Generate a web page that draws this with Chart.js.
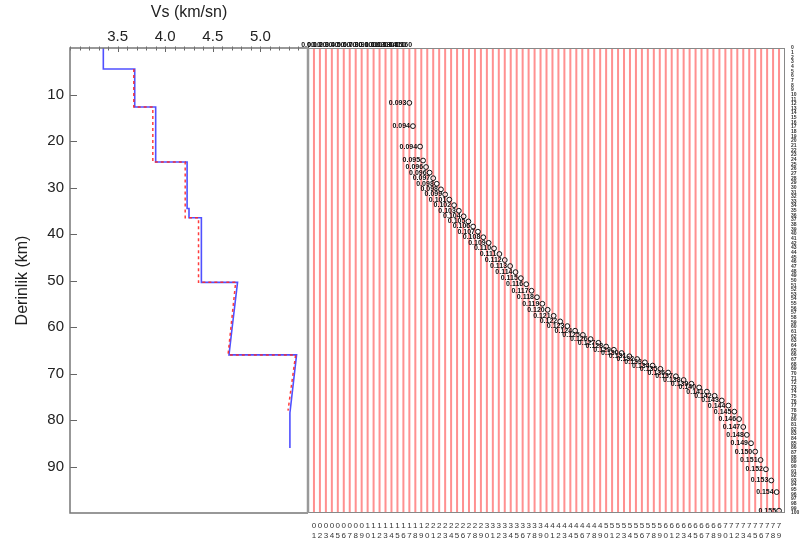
<!DOCTYPE html>
<html>
<head>
<meta charset="utf-8">
<script src="https://cdn.jsdelivr.net/npm/chart.js@4.4.0/dist/chart.umd.min.js"></script>
<style>
body { margin: 0; background: #fff; width: 806px; height: 550px; overflow: hidden; position: relative; }
#wrapL { position: absolute; left: 0; top: 0; width: 312px; height: 550px; }
#wrapR { position: absolute; left: 296px; top: 0; width: 510px; height: 550px; }
</style>
</head>
<body>
<div id="wrapL"><canvas id="vs" width="312" height="550"></canvas></div>
<div id="wrapR"><canvas id="kern" width="510" height="550"></canvas></div>
<script>
// axes
var depthRange = [0, 100];
var vsRange = [3.0, 5.5];
var vsTicks = [3.5, 4.0, 4.5, 5.0];
var depthTicks = [10, 20, 30, 40, 50, 60, 70, 80, 90];

// inverted Vs profile (blue)
var invDepth = [0, 4.5, 4.5, 12.7, 12.7, 24.5, 24.5, 34.5, 34.5, 36.5, 36.5, 50.4, 50.4, 60.7, 66, 66, 78.5, 86];
var invVs    = [3.35, 3.35, 3.68, 3.68, 3.90, 3.90, 4.23, 4.23, 4.25, 4.25, 4.38, 4.38, 4.76, 4.70, 4.67, 5.38, 5.31, 5.31];

// starting model (red dashed)
var modelDepth = [4.5, 12.7, 12.7, 24.5, 24.5, 36.5, 36.5, 50.4, 50.4, 66, 66, 78];
var modelVs    = [3.67, 3.67, 3.87, 3.87, 4.21, 4.21, 4.35, 4.35, 4.74, 4.66, 5.37, 5.29];

// resolution kernels
var kernelCount = 79;
var peakX = [17.0, 17.6, 18.8, 19.3, 19.8, 20.4, 21.0, 21.6, 22.3, 23.0, 23.7, 24.5, 25.3, 26.1, 26.9, 27.7,
  28.5, 29.4, 30.3, 31.2, 32.1, 33.0, 33.9, 34.8, 35.7, 36.6, 37.5, 38.4, 39.3, 40.2, 41.2, 42.3, 43.5,
  44.8, 46.1, 47.4, 48.7, 50.0, 51.3, 52.6, 53.9, 55.2, 56.5, 57.8, 59.1, 60.4, 61.7, 63.0, 64.3, 65.6,
  66.9, 68.2, 69.4, 70.5, 71.5, 72.3, 73.0, 73.6, 74.3, 75.0, 75.9, 76.8, 77.7, 78.6, 79.0];
var peakDepth = [11.8, 16.8, 21.2, 24.2, 25.6, 26.8, 28.0, 29.2, 30.4, 31.5, 32.6, 33.8, 35.0, 36.2, 37.3, 38.4,
  39.5, 40.7, 41.9, 43.1, 44.3, 45.6, 46.9, 48.2, 49.5, 50.8, 52.2, 53.6, 55.0, 56.3, 57.6, 58.8, 59.8,
  60.8, 61.7, 62.6, 63.4, 64.2, 64.9, 65.6, 66.3, 66.9, 67.6, 68.3, 69.0, 69.8, 70.6, 71.4, 72.2, 73.0,
  73.9, 74.8, 75.8, 76.9, 78.2, 79.8, 81.5, 83.2, 85.0, 86.8, 88.6, 90.6, 93.0, 95.5, 99.5];
var peakRes = [0.093, 0.094, 0.094, 0.095, 0.096, 0.096, 0.097, 0.098, 0.098, 0.099, 0.101, 0.102, 0.103, 0.104, 0.105, 0.106,
  0.107, 0.108, 0.109, 0.110, 0.111, 0.112, 0.113, 0.114, 0.115, 0.116, 0.117, 0.118, 0.119, 0.120, 0.121, 0.122, 0.123,
  0.124, 0.125, 0.126, 0.127, 0.128, 0.129, 0.130, 0.131, 0.132, 0.133, 0.134, 0.135, 0.136, 0.137, 0.138, 0.139, 0.140,
  0.141, 0.142, 0.143, 0.144, 0.145, 0.146, 0.147, 0.148, 0.149, 0.150, 0.151, 0.152, 0.153, 0.154, 0.155];

Chart.defaults.font.family = '"Liberation Sans", Arial, sans-serif';
Chart.defaults.color = '#222';
Chart.defaults.animation = false;

function pts(xs, ys) {
  return xs.map(function (v, i) { return { x: v, y: ys[i] }; });
}
function isTick(list, v) {
  return list.some(function (t) { return Math.abs(t - v) < 1e-6; });
}

var innerTicks = {
  id: 'innerTicks',
  afterDraw: function (chart) {
    var ctx = chart.ctx, a = chart.chartArea;
    var xs = chart.scales.x, ys = chart.scales.y;
    ctx.save();
    ctx.strokeStyle = '#666';
    ctx.lineWidth = 1;
    ctx.beginPath();
    xs.ticks.forEach(function (t) {
      var px = Math.round(xs.getPixelForValue(t.value)) + 0.5;
      ctx.moveTo(px, a.top - 1.5);
      ctx.lineTo(px, a.top + (isTick(vsTicks, t.value) ? 4 : 2.5));
    });
    ys.ticks.forEach(function (t) {
      if (!isTick(depthTicks, t.value)) return;
      var py = Math.round(ys.getPixelForValue(t.value)) + 0.5;
      ctx.moveTo(a.left, py);
      ctx.lineTo(a.left + 7, py);
    });
    ctx.stroke();
    // frame
    ctx.strokeStyle = '#777';
    ctx.lineWidth = 1.5;
    ctx.beginPath();
    ctx.moveTo(a.right, a.top); ctx.lineTo(a.left, a.top);
    ctx.lineTo(a.left, a.bottom); ctx.lineTo(a.right, a.bottom);
    ctx.stroke();
    ctx.restore();
  }
};

new Chart(document.getElementById('vs'), {
  type: 'scatter',
  data: {
    datasets: [
      {
        data: pts(modelVs, modelDepth), showLine: true, pointRadius: 0,
        borderColor: 'rgba(255,40,40,0.9)', borderWidth: 1.5, borderDash: [3, 3]
      },
      {
        data: pts(invVs, invDepth), showLine: true, pointRadius: 0,
        borderColor: 'rgb(80,80,255)', borderWidth: 1.6
      }
    ]
  },
  options: {
    responsive: false,
    layout: { padding: { left: 0, right: 4, top: 0, bottom: 37 } },
    plugins: { legend: { display: false }, tooltip: { enabled: false } },
    scales: {
      x: {
        type: 'linear', position: 'top', min: vsRange[0], max: vsRange[1],
        grid: { display: false, drawTicks: false }, border: { display: false },
        ticks: {
          stepSize: 0.1, autoSkip: false, maxRotation: 0, padding: 2,
          font: { size: 15 },
          callback: function (v) { return isTick(vsTicks, v) ? v.toFixed(1) : ''; }
        },
        title: { display: true, text: 'Vs (km/sn)', font: { size: 16 }, padding: { top: 3, bottom: 0 } },
        afterFit: function (s) { s.height = 48; }
      },
      y: {
        type: 'linear', reverse: true, min: depthRange[0], max: depthRange[1],
        grid: { display: false, drawTicks: false }, border: { display: false },
        ticks: {
          stepSize: 10, autoSkip: false, padding: 6, font: { size: 15 },
          callback: function (v) { return isTick(depthTicks, v) ? String(v) : ''; }
        },
        title: { display: true, text: 'Derinlik (km)', font: { size: 16 }, padding: { top: 13, bottom: 0 } },
        afterFit: function (s) { s.width = 70; }
      }
    }
  },
  plugins: [innerTicks]
});

// kernel lines: one vertical trace per kernel index
var kernelLines = [];
for (var k = 1; k <= kernelCount; k++) {
  kernelLines.push({ x: k, y: depthRange[0] }, { x: k, y: depthRange[1] }, { x: k, y: null });
}

var kernelDecor = {
  id: 'kernelDecor',
  afterDraw: function (chart) {
    var ctx = chart.ctx, a = chart.chartArea;
    var meta = chart.getDatasetMeta(0);
    ctx.save();
    ctx.font = 'bold 7px "Liberation Sans", Arial, sans-serif';
    ctx.fillStyle = '#111';
    ctx.textAlign = 'right';
    ctx.textBaseline = 'middle';
    meta.data.forEach(function (p, i) {
      ctx.fillText(peakRes[i].toFixed(3), p.x - 3, p.y);
    });
    ctx.strokeStyle = '#888';
    ctx.lineWidth = 1;
    ctx.strokeRect(a.left + 0.5, a.top + 0.5, a.right - a.left - 1, a.bottom - a.top - 1);
    ctx.strokeStyle = '#999';
    ctx.lineWidth = 2.5;
    ctx.beginPath();
    ctx.moveTo(a.left, a.top); ctx.lineTo(a.left, a.bottom);
    ctx.stroke();
    ctx.restore();
  }
};

new Chart(document.getElementById('kern'), {
  type: 'scatter',
  data: {
    datasets: [
      {
        data: pts(peakX, peakDepth), showLine: false,
        pointRadius: 2.4, pointBorderWidth: 1,
        pointBorderColor: '#111', pointBackgroundColor: 'rgba(255,255,255,0.5)'
      },
      {
        data: kernelLines, showLine: true, spanGaps: false, pointRadius: 0,
        borderColor: 'rgba(255,70,70,0.6)', borderWidth: 2
      }
    ]
  },
  options: {
    responsive: false,
    layout: { padding: { left: 12, right: 0, top: 0, bottom: 0 } },
    plugins: { legend: { display: false }, tooltip: { enabled: false } },
    scales: {
      x: {
        type: 'linear', position: 'bottom', min: 0, max: kernelCount + 1,
        grid: { display: false, drawTicks: false }, border: { display: false },
        ticks: {
          stepSize: 1, autoSkip: false, maxRotation: 0, padding: 8,
          font: { size: 8 }, color: '#333',
          callback: function (v) {
            if (v < 1 || v > kernelCount) return '';
            return [String(Math.floor(v / 10)), String(v % 10)];
          }
        },
        afterFit: function (s) { s.height = 37; }
      },
      x2: {
        type: 'linear', position: 'top', min: 0, max: kernelCount + 1,
        grid: { display: false, drawTicks: false }, border: { display: false },
        ticks: {
          stepSize: 1, autoSkip: false, maxRotation: 0, padding: -1,
          font: { size: 7, weight: 'bold' }, color: '#111',
          callback: function (v) { return v <= 16 ? '0.' + v + '0' : ''; }
        },
        afterFit: function (s) { s.height = 48; }
      },
      y: {
        type: 'linear', position: 'right', reverse: true, min: depthRange[0], max: depthRange[1],
        grid: { display: false, drawTicks: false }, border: { display: false },
        ticks: {
          stepSize: 1, autoSkip: false, padding: 6, font: { size: 5, weight: 'bold' }, color: '#333',
          callback: function (v) { return String(v); }
        },
        afterFit: function (s) { s.width = 21; }
      }
    }
  },
  plugins: [kernelDecor]
});
</script>
</body>
</html>
